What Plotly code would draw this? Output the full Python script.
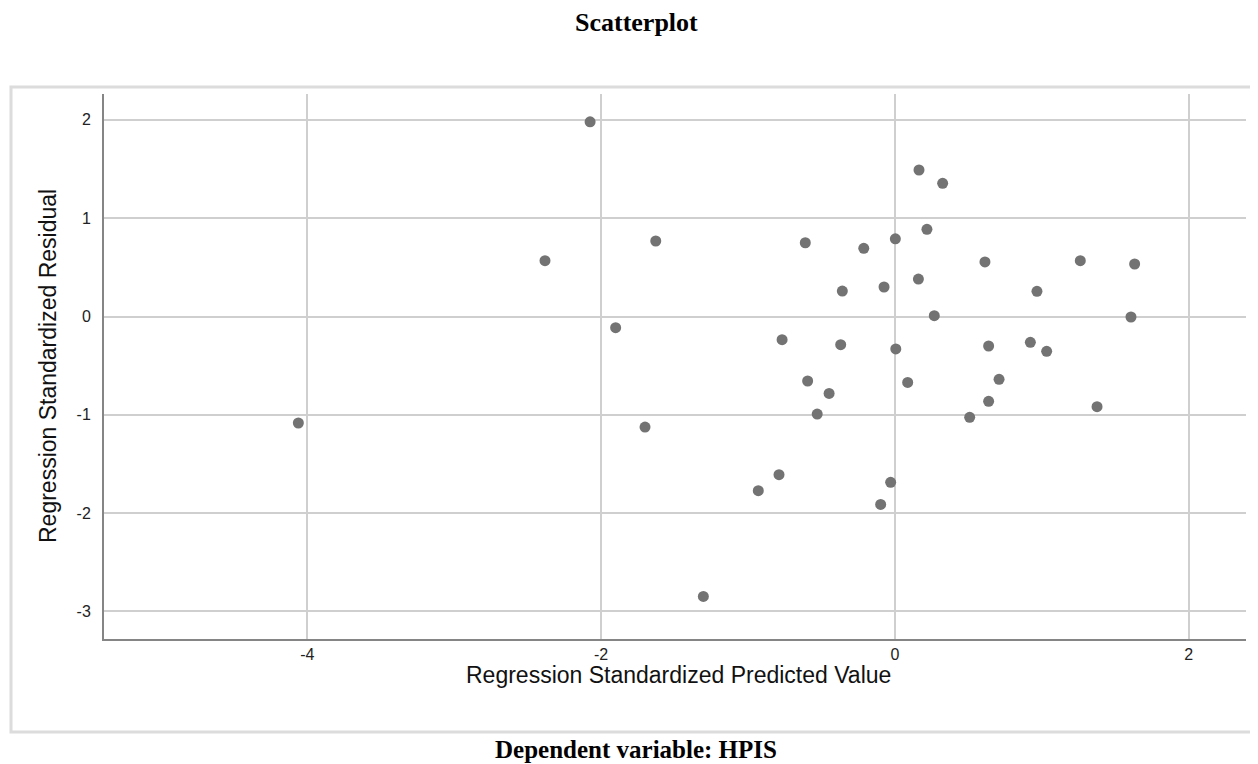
import plotly.graph_objects as go

# Regression Standardized Predicted Value (x) and Regression Standardized Residual (y)
pred = [-2.075, 0.164, 0.325, -2.382, -1.628, -0.61, -0.212, 0.003, 0.218, 0.613,
        1.262, 1.632, -0.358, -0.074, 0.16, 0.967, 0.268, 1.607, -1.901, -0.768,
        -0.369, 0.006, 0.638, 0.922, 1.033, -0.594, -0.448, 0.087, 0.709, 0.638,
        -0.529, 0.509, 1.376, -4.061, -1.701, -0.93, -0.789, -0.029, -0.097, -1.304]
resid = [1.98, 1.49, 1.355, 0.568, 0.768, 0.75, 0.694, 0.79, 0.887, 0.555,
         0.568, 0.534, 0.259, 0.30, 0.381, 0.256, 0.008, -0.005, -0.114, -0.236,
         -0.287, -0.33, -0.30, -0.263, -0.354, -0.656, -0.782, -0.67, -0.639, -0.863,
         -0.992, -1.025, -0.917, -1.083, -1.124, -1.772, -1.609, -1.687, -1.911, -2.847]

x_ticks = [-4, -2, 0, 2]
y_ticks = [-3, -2, -1, 0, 1, 2]

# page has an 8px body margin; the figure is placed at (8, 8)
OFF = 8
W, H = 1258 - OFF, 764 - OFF
ML, MR, MT, MB = 104 - OFF, 12, 94 - OFF, 125
PW, PH = W - ML - MR, H - MT - MB


def px_x(p):  # page pixel -> paper x
    return (p - OFF - ML) / PW


def px_y(p):  # page pixel -> paper y
    return (H - MB - (p - OFF)) / PH


SANS = "Arial, Liberation Sans, sans-serif"
SERIF = "Liberation Serif, Times New Roman, serif"

fig = go.Figure()
fig.add_trace(go.Scatter(
    x=pred, y=resid, mode="markers",
    marker=dict(color="#737373", size=11, line=dict(width=0)),
    hoverinfo="x+y", showlegend=False,
))

fig.update_layout(
    width=W, height=H,
    margin=dict(l=ML, r=MR, t=MT, b=MB),
    paper_bgcolor="white", plot_bgcolor="white",
    font=dict(family=SANS, color="#222"),
    xaxis=dict(
        range=[-5.384, 2.39], tickvals=x_ticks, ticktext=[str(v) for v in x_ticks],
        showgrid=True, gridcolor="#cfcfcf", gridwidth=1.5, zeroline=False,
        showline=True, linecolor="#858585", linewidth=2, mirror=False,
        ticks="", ticklabelstandoff=0,
        tickfont=dict(size=16, color="#222", family=SANS),
    ),
    yaxis=dict(
        range=[-3.28, 2.263], tickvals=y_ticks, ticktext=[str(v) for v in y_ticks],
        showgrid=True, gridcolor="#cfcfcf", gridwidth=1.5, zeroline=False,
        showline=True, linecolor="#858585", linewidth=2, mirror=False,
        ticks="", ticklabelstandoff=8,
        tickfont=dict(size=16, color="#222", family=SANS),
    ),
    shapes=[dict(
        type="rect", xref="paper", yref="paper",
        x0=px_x(11), x1=px_x(1275), y0=px_y(732), y1=px_y(87),
        line=dict(color="#dcdcdc", width=3), fillcolor="rgba(0,0,0,0)", layer="below",
    )],
    annotations=[
        dict(text="<b>Scatterplot</b>", xref="paper", yref="paper",
             x=px_x(636), y=px_y(23), xanchor="center", yanchor="middle", showarrow=False,
             font=dict(family=SERIF, size=26, color="#000")),
        dict(text="<b>Dependent variable: HPIS</b>", xref="paper", yref="paper",
             x=px_x(636), y=px_y(749), xanchor="center", yanchor="middle", showarrow=False,
             font=dict(family=SERIF, size=25, color="#000")),
        dict(text="Regression Standardized Predicted Value", xref="paper", yref="paper",
             x=px_x(678), y=px_y(675), xanchor="center", yanchor="middle", showarrow=False,
             font=dict(family=SANS, size=23, color="#111")),
        dict(text="Regression Standardized Residual", xref="paper", yref="paper",
             x=px_x(48), y=px_y(366), xanchor="center", yanchor="middle", showarrow=False,
             textangle=-90, font=dict(family=SANS, size=23, color="#111")),
    ],
)

fig.write_html("out.html")
